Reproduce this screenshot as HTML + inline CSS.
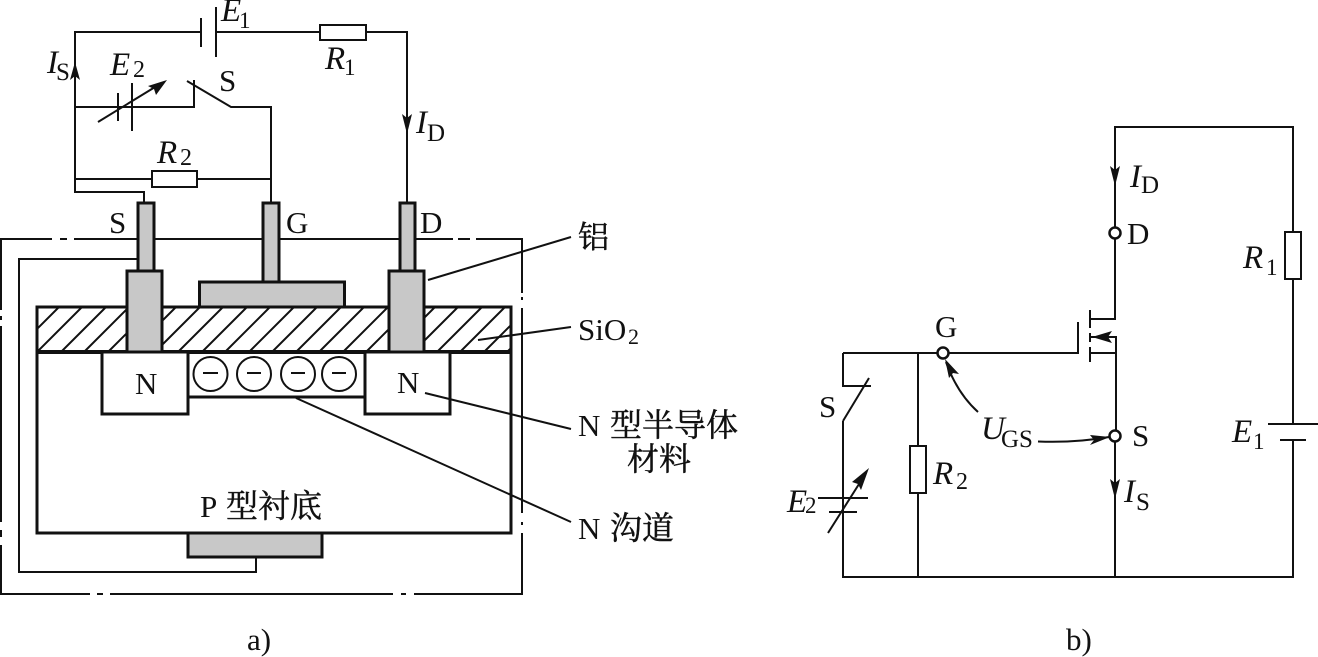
<!DOCTYPE html>
<html>
<head>
<meta charset="utf-8">
<style>
html,body{margin:0;padding:0;background:#fff;width:1318px;height:657px;overflow:hidden}
svg{display:block}
text{font-family:"Liberation Serif","Noto Serif CJK SC",serif;fill:#111}
.i{font-style:italic}
.c{stroke:#111;stroke-width:.45}
</style>
</head>
<body>
<svg width="1318" height="657" viewBox="0 0 1318 657" xmlns="http://www.w3.org/2000/svg">
<defs><clipPath id="ox"><rect x="37" y="307" width="474" height="45"/></clipPath></defs>

<!-- outer dash-dot enclosure -->
<g fill="none" stroke="#111" stroke-width="2">
<path d="M52 239H1V310M1 316V320M1 326V522M1 530V537M1 545V594H90M97 594H103M110 594H393M401 594H406M414 594H522V533M522 522V525M522 513V308M522 297V300M522 293V239H476M458 239H470M453 239H137M60 239H67M74 239H137"/>
<path d="M137 259H19V572H256V557"/>
</g>

<!-- semiconductor -->
<g stroke="#111" fill="#fff">
<rect x="37" y="307" width="474" height="45" stroke-width="3"/>
<g clip-path="url(#ox)" stroke-width="2" fill="none">
<path d="M-10 352L35 307M14 352L59 307M37 352L82 307M61 352L106 307M84 352L129 307M108 352L153 307M131 352L176 307M155 352L200 307M178 352L223 307M202 352L247 307M225 352L270 307M249 352L294 307M272 352L317 307M296 352L341 307M319 352L364 307M343 352L388 307M366 352L411 307M390 352L435 307M413 352L458 307M437 352L482 307M460 352L505 307M484 352L529 307M507 352L552 307"/>
</g>
<path d="M37 352V533H511V352" fill="#fff" stroke-width="3"/>
<path d="M37 352H511" stroke-width="4" fill="none"/>
<rect x="102" y="352" width="86" height="62" stroke-width="3"/>
<rect x="365" y="352" width="85" height="62" stroke-width="3"/>
<path d="M188 397H365" stroke-width="3" fill="none"/>
</g>
<g fill="#fff" stroke="#111" stroke-width="2">
<circle cx="210.500" cy="374" r="17"/><circle cx="254" cy="374" r="17"/><circle cx="298" cy="374" r="17"/><circle cx="339" cy="374" r="17"/>
</g>
<path d="M203 373H218M247 373H261M291 373H305M332 373H346" stroke="#111" stroke-width="2" fill="none"/>

<!-- metal -->
<g fill="#c8c8c8" stroke="#111" stroke-width="3">
<rect x="138" y="203" width="16" height="68"/>
<rect x="263" y="203" width="16" height="79"/>
<rect x="400" y="203" width="15" height="68"/>
<rect x="127" y="271" width="35" height="81"/>
<rect x="389" y="271" width="35" height="81"/>
<rect x="199.500" y="282" width="145" height="25"/>
<rect x="188" y="533" width="134" height="24"/>
</g>

<!-- circuit a -->
<g fill="none" stroke="#111" stroke-width="2">
<path d="M144 202V192H75V32H201M216 32H320M366 32H407V202"/>
<path d="M201 18V47M216 7V57"/>
<rect x="320" y="25" width="46" height="15" fill="#fff"/>
<path d="M75 107H194V80M187 81L231 107H271V202"/>
<path d="M118 93V121M132 83V131M98 122L160 84"/>
<path d="M75 179H152M197 179H271"/>
<rect x="152" y="171" width="45" height="16" fill="#fff"/>
<!-- leaders -->
<path d="M428 280L571 237M478 340L571 327M425 393L571 429M296 398L571 522"/>
</g>
<g fill="#111" stroke="none">
<path d="M75 62L80 80L75 76L70 80Z"/>
<path d="M407 134L402 114L407 118L412 114Z"/>
<path d="M167 80L148 86L154 89L156 95Z"/>
</g>

<!-- circuit b -->
<g fill="none" stroke="#111" stroke-width="2">
<path d="M1115 228V127H1293V232M1293 279V424M1293 440V577H843V421M843 353V386H871M869 378L843 421"/>
<path d="M843 353H938M949 353H1078V322"/>
<path d="M918 353V446M918 493V577"/>
<rect x="910" y="446" width="16" height="47" fill="#fff"/>
<rect x="1285" y="232" width="16" height="47" fill="#fff"/>
<path d="M1268 424H1318M1280 440H1306"/>
<path d="M818 498H868M829 512H857M828 533L866 473"/>
<path d="M1115 238V319H1090M1090 310V328M1090 333V342M1090 347V362M1090 337H1116V430M1090 353H1116M1115 442V577"/>
<circle cx="943" cy="353" r="5.500" fill="#fff" stroke-width="2.500"/>
<circle cx="1115" cy="233" r="5.500" fill="#fff" stroke-width="2.500"/>
<circle cx="1115" cy="436" r="5.500" fill="#fff" stroke-width="2.500"/>
<path d="M978 412Q957 393 946 362"/>
<path d="M1038 441.500Q1075 443 1109 437"/>
</g>
<g fill="#111" stroke="none">
<path d="M1115 186L1110 166L1115 170L1120 166Z"/>
<path d="M1115 499L1110 479L1115 483L1120 479Z"/>
<path d="M1092 337L1112 331L1108 337L1112 343Z"/>
<path d="M945 359L959 374L953 373L949 378Z"/>
<path d="M1110 437L1090 435L1094 440L1090 445Z"/>
<path d="M869 468L852 482L858 484L861 490Z"/>
</g>

<!-- labels a -->
<text x="221" y="21" font-size="33" class="i">E</text><text x="239" y="28" font-size="23">1</text>
<text x="47" y="73" font-size="33" class="i">I</text><text x="56" y="80" font-size="25">S</text>
<text x="110" y="75" font-size="33" class="i">E</text><text x="133" y="77" font-size="24">2</text>
<text x="219" y="91" font-size="31">S</text>
<text x="325" y="69" font-size="33" class="i">R</text><text x="344" y="75" font-size="23">1</text>
<text x="416" y="133" font-size="33" class="i">I</text><text x="427" y="141" font-size="25">D</text>
<text x="157" y="163" font-size="33" class="i">R</text><text x="180" y="165" font-size="24">2</text>
<text x="109" y="233" font-size="31">S</text>
<text x="286" y="233" font-size="31">G</text>
<text x="420" y="233" font-size="31">D</text>
<text x="135" y="394" font-size="31">N</text>
<text x="397" y="393" font-size="31">N</text>
<text x="578" y="248" font-size="31" class="c">铝</text>
<text x="578" y="340" font-size="31">SiO</text><text x="628" y="344" font-size="22">2</text>
<text x="578" y="436" font-size="31">N</text><text x="610" y="436" font-size="32" class="c">型半导体</text>
<text x="627" y="470" font-size="32" class="c">材料</text>
<text x="578" y="539" font-size="31">N</text><text x="610" y="539" font-size="32" class="c">沟道</text>
<text x="200" y="517" font-size="31">P</text><text x="226" y="517" font-size="32" class="c">型衬底</text>
<text x="247" y="650" font-size="31">a)</text>

<!-- labels b -->
<text x="1130" y="187" font-size="33" class="i">I</text><text x="1141" y="193" font-size="25">D</text>
<text x="1127" y="244" font-size="31">D</text>
<text x="935" y="337" font-size="31">G</text>
<text x="1243" y="268" font-size="33" class="i">R</text><text x="1266" y="275" font-size="23">1</text>
<text x="1132" y="446" font-size="31">S</text>
<text x="1232" y="442" font-size="33" class="i">E</text><text x="1253" y="449" font-size="23">1</text>
<text x="819" y="417" font-size="31">S</text>
<text x="981" y="439" font-size="33" class="i">U</text><text x="1001" y="447" font-size="25">GS</text>
<text x="1124" y="502" font-size="33" class="i">I</text><text x="1136" y="510" font-size="25">S</text>
<text x="933" y="484" font-size="33" class="i">R</text><text x="956" y="489" font-size="24">2</text>
<text x="787" y="512" font-size="33" class="i">E</text><text x="805" y="513" font-size="23">2</text>
<text x="1066" y="650" font-size="31">b)</text>
</svg>
</body>
</html>
